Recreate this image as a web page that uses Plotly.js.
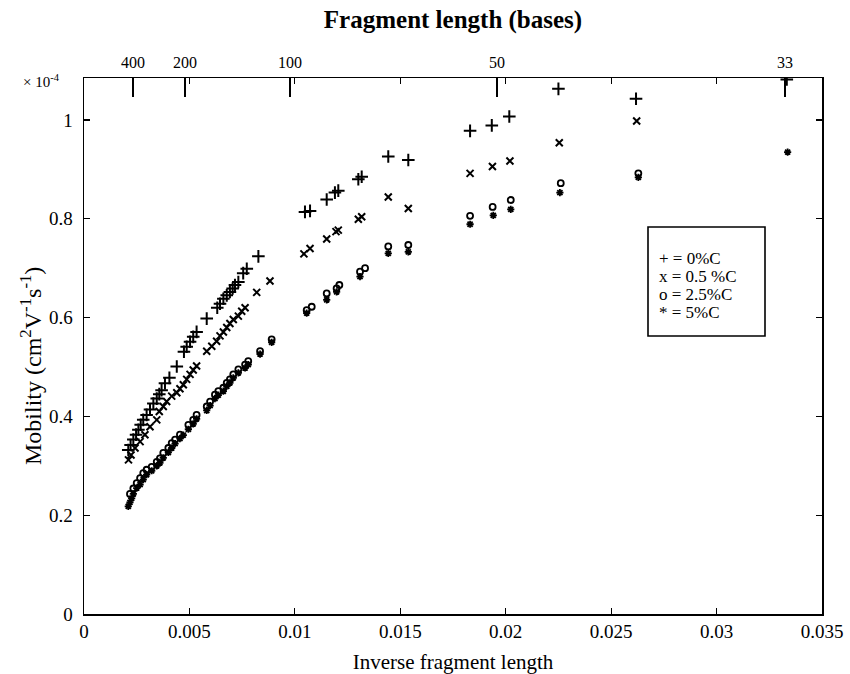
<!DOCTYPE html>
<html>
<head>
<meta charset="utf-8">
<script src="https://cdn.plot.ly/plotly-3.0.1.min.js"></script>
<style>html,body{margin:0;padding:0;background:#fff;}#chart{width:850px;height:674px;}</style>
</head>
<body>
<div id="chart"></div>
<script>
// Inverse fragment length (x) and mobility (x 10^-4 cm^2 V^-1 s^-1) per series
const plusX = [0.00210,0.00221,0.00234,0.00247,0.00258,0.00269,0.00281,0.00297,0.00313,0.00329,0.00345,0.00357,0.00368,0.00384,0.00405,0.00440,0.00474,0.00487,0.00503,0.00518,0.00534,0.00582,0.00632,0.00645,0.00661,0.00677,0.00692,0.00705,0.00716,0.00732,0.00755,0.00772,0.00827,
  0.01048,0.01072,0.01151,0.01190,0.01206,0.01301,0.01317,0.01443,0.01538,0.01831,0.01934,0.02017,0.02250,0.02618,0.03333];
const plusY = [0.332,0.342,0.353,0.363,0.373,0.383,0.393,0.403,0.414,0.426,0.436,0.445,0.453,0.467,0.478,0.501,0.531,0.541,0.551,0.561,0.571,0.598,0.620,0.628,0.638,0.645,0.652,0.659,0.666,0.672,0.690,0.699,0.724,
  0.814,0.816,0.839,0.853,0.857,0.880,0.885,0.926,0.919,0.978,0.989,1.007,1.063,1.043,1.082];

const crossX = [0.00211,0.00223,0.00242,0.00266,0.00289,0.00313,0.00345,0.00357,0.00376,0.00392,0.00416,0.00440,0.00455,0.00471,0.00487,0.00503,0.00518,0.00534,0.00582,0.00606,0.00629,0.00645,0.00661,0.00677,0.00692,0.00708,0.00732,0.00748,0.00764,0.00819,0.00882,
  0.01043,0.01072,0.01151,0.01195,0.01206,0.01301,0.01317,0.01443,0.01538,0.01831,0.01937,0.02020,0.02254,0.02621];
const crossY = [0.312,0.322,0.336,0.349,0.363,0.379,0.393,0.410,0.420,0.430,0.441,0.448,0.456,0.464,0.475,0.485,0.494,0.502,0.532,0.542,0.552,0.563,0.571,0.580,0.588,0.596,0.603,0.613,0.620,0.651,0.674,
  0.729,0.740,0.759,0.774,0.777,0.799,0.804,0.844,0.821,0.892,0.906,0.917,0.954,0.998];

const circleX = [0.00218,0.00234,0.00250,0.00266,0.00281,0.00297,0.00321,0.00345,0.00360,0.00376,0.00400,0.00416,0.00432,0.00455,0.00495,0.00518,0.00534,0.00582,0.00598,0.00621,0.00637,0.00661,0.00677,0.00692,0.00708,0.00732,0.00764,0.00779,0.00835,0.00890,
  0.01056,0.01080,0.01151,0.01198,0.01211,0.01309,0.01333,0.01443,0.01538,0.01831,0.01938,0.02024,0.02261,0.02629];
const circleY = [0.243,0.254,0.265,0.275,0.285,0.292,0.298,0.308,0.315,0.326,0.336,0.346,0.353,0.363,0.383,0.393,0.403,0.420,0.430,0.444,0.451,0.458,0.468,0.475,0.485,0.495,0.505,0.512,0.532,0.556,
  0.615,0.622,0.649,0.659,0.666,0.693,0.700,0.744,0.747,0.806,0.824,0.838,0.872,0.892];

const starX = [0.00210,0.00218,0.00226,0.00234,0.00250,0.00266,0.00281,0.00297,0.00321,0.00345,0.00360,0.00376,0.00400,0.00416,0.00432,0.00455,0.00471,0.00495,0.00518,0.00534,0.00582,0.00598,0.00621,0.00637,0.00661,0.00677,0.00692,0.00708,0.00732,0.00764,0.00779,0.00835,0.00890,
  0.01056,0.01151,0.01198,0.01309,0.01443,0.01538,0.01831,0.01941,0.02024,0.02257,0.02629,0.03337];
const starY = [0.218,0.226,0.234,0.243,0.255,0.262,0.272,0.282,0.290,0.300,0.306,0.316,0.327,0.336,0.345,0.355,0.362,0.374,0.385,0.395,0.412,0.422,0.436,0.443,0.451,0.461,0.468,0.478,0.488,0.498,0.505,0.526,0.550,
  0.609,0.636,0.652,0.683,0.730,0.733,0.789,0.807,0.819,0.853,0.884,0.935];

// Top axis: fragment length (bases)
const topTickVals = [0.00232,0.00479,0.00977,0.01959,0.03325];
const topTickText = ['400','200','100','50','33'];

const legendLines = ['+ = 0%C','x = 0.5 %C','o = 2.5%C','* = 5%C'];

const FONT = 'Liberation Serif, Times New Roman, serif';

function mk(x, y, symbol, size, lw) {
  return {x: x, y: y, type: 'scatter', mode: 'markers', showlegend: false, hoverinfo: 'skip',
    marker: {symbol: symbol, size: size, color: '#000', line: {color: '#000', width: lw}}};
}

const traces = [
  mk(plusX, plusY, 'cross-thin-open', 9, 2),
  mk(crossX, crossY, 'x-thin-open', 7, 2),
  mk(circleX, circleY, 'circle-open', 6, 1.8),
  mk(starX, starY, 'asterisk-open', 6, 1.8),
  {x: [0], y: [0], xaxis: 'x2', yaxis: 'y', type: 'scatter', mode: 'markers', showlegend: false, hoverinfo: 'skip', marker: {opacity: 0}}
];

// Pixel helpers for the plot area (left 84, top 78, width 738, height 536)
const PL = 84, PB = 614, PW = 738, PH = 536;
const px = v => (v - PL) / PW;
const py = v => (PB - v) / PH;
const legendRowY = [258, 276, 294, 312];

const annotations = [
  {xref: 'paper', yref: 'paper', x: -0.03, y: 0.994, xanchor: 'right', yanchor: 'middle',
   text: '× 10<sup>-4</sup>', showarrow: false, font: {family: FONT, size: 15, color: '#000'}},
  {xref: 'paper', yref: 'paper', x: px(31), y: py(366), xanchor: 'center', yanchor: 'middle', textangle: -90,
   text: 'Mobility (cm<sup>2</sup>V<sup>-1</sup>s<sup>-1</sup>)', showarrow: false,
   font: {family: FONT, size: 24, color: '#000'}}
];
legendLines.forEach((t, i) => annotations.push({
  xref: 'paper', yref: 'paper', x: px(657), y: py(legendRowY[i]), xanchor: 'left', yanchor: 'middle',
  text: t, showarrow: false, font: {family: FONT, size: 17, color: '#000'}
}));

const layout = {
  width: 850, height: 674,
  margin: {l: 84, r: 28, t: 78, b: 60},
  paper_bgcolor: '#fff', plot_bgcolor: '#fff',
  font: {family: FONT, color: '#000', size: 16},
  showlegend: false,
  xaxis: {
    range: [0, 0.035], tick0: 0, dtick: 0.005,
    ticks: 'inside', ticklen: 6, tickwidth: 1.2, tickcolor: '#000',
    showline: true, linecolor: '#000', linewidth: 1.5, mirror: 'ticks',
    showgrid: false, zeroline: false,
    tickfont: {family: FONT, size: 19, color: '#000'},
    title: {text: 'Inverse fragment length', font: {family: FONT, size: 21, color: '#000'}, standoff: 14}
  },
  xaxis2: {
    overlaying: 'x', side: 'top', anchor: 'y',
    range: [0, 0.035], tickmode: 'array', tickvals: topTickVals, ticktext: topTickText,
    ticks: 'inside', ticklen: 19, tickwidth: 1.6, tickcolor: '#000',
    showline: false, showgrid: false, zeroline: false, ticklabelstandoff: 6,
    tickfont: {family: FONT, size: 16, color: '#000'},
    title: {text: '<b>Fragment length (bases)</b>', font: {family: FONT, size: 25, color: '#000'}, standoff: 18}
  },
  yaxis: {
    range: [0, 1.085], tick0: 0, dtick: 0.2,
    ticks: 'inside', ticklen: 6, tickwidth: 1.2, tickcolor: '#000',
    showline: true, linecolor: '#000', linewidth: 1.5, mirror: 'ticks',
    showgrid: false, zeroline: false, ticklabelstandoff: 6,
    tickfont: {family: FONT, size: 19, color: '#000'}
  },
  shapes: [
    {type: 'rect', xref: 'paper', yref: 'paper', x0: px(648), x1: px(765), y0: py(336), y1: py(227),
     line: {color: '#000', width: 1.6}, fillcolor: 'rgba(0,0,0,0)'}
  ],
  annotations: annotations
};

Plotly.newPlot('chart', traces, layout, {displayModeBar: false, staticPlot: true});
</script>
</body>
</html>
